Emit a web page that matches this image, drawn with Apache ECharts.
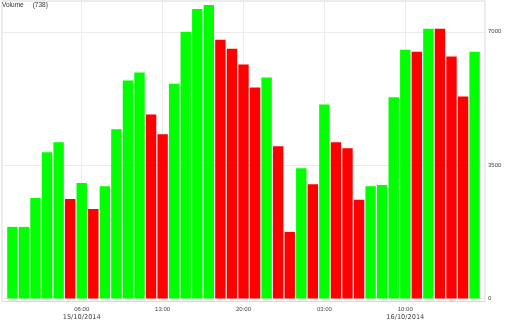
<!DOCTYPE html>
<html>
<head>
<meta charset="utf-8">
<script src="https://cdn.jsdelivr.net/npm/echarts@6/dist/echarts.min.js"></script>
<style>
html,body{margin:0;padding:0;background:#fff;}
#chart{width:512px;height:321px;}
</style>
</head>
<body>
<div id="chart"></div>
<script>
// Hourly categories: 15/10/2014 00:00 .. 16/10/2014 16:00
const times = [
  "00:00","01:00","02:00","03:00","04:00","05:00","06:00","07:00","08:00","09:00",
  "10:00","11:00","12:00","13:00","14:00","15:00","16:00","17:00","18:00","19:00",
  "20:00","21:00","22:00","23:00","00:00","01:00","02:00","03:00","04:00","05:00",
  "06:00","07:00","08:00","09:00","10:00","11:00","12:00","13:00","14:00","15:00","16:00"
];
const volumes = [
  1880, 1880, 2640, 3840, 4100, 2610, 3030, 2350, 2950, 4440,
  5720, 5930, 4830, 4310, 5640, 7000, 7600, 7705, 6790, 6555,
  6140, 5540, 5800, 4000, 1750, 3420, 3000, 5090, 4100, 3945,
  2590, 2950, 2980, 5280, 6530, 6480, 7080, 7080, 6350, 5300, 6480
];
// 1 = up (green), -1 = down (red)
const direction = [
  1, 1, 1, 1, 1,-1, 1,-1, 1, 1,
  1, 1,-1,-1, 1, 1, 1, 1,-1,-1,
 -1,-1, 1,-1,-1, 1,-1, 1,-1,-1,
 -1, 1, 1, 1, 1,-1, 1,-1,-1,-1, 1
];
const tickIndex = [6, 13, 20, 27, 34];
const tickDates = {6: "15/10/2014", 34: "16/10/2014"};
const yTicks = [0, 3500, 7000];
const volumeLabel = "Volume";
const volumeCount = "(738)";

const UP = "#00ff00", DOWN = "#ff0000";
const data = volumes.map((v, i) => ({
  value: [i, v],
  itemStyle: { color: direction[i] > 0 ? UP : DOWN }
}));

const chart = echarts.init(document.getElementById('chart'));
chart.setOption({
  animation: false,
  backgroundColor: '#fff',
  textStyle: { fontFamily: 'Liberation Sans' },
  title: {
    text: volumeLabel + '     ' + volumeCount,
    left: 2, top: 2, padding: 0,
    textStyle: { fontSize: 6.5, fontWeight: 'normal', color: '#333', fontFamily: 'Liberation Sans' }
  },
  grid: {
    left: 2, top: 1, right: 27, bottom: 18,
    show: true, borderColor: '#d9d9d9', borderWidth: 1, backgroundColor: 'transparent'
  },
  xAxis: {
    type: 'value', min: -0.9, max: 40.9,
    axisLine: { show: false },
    axisTick: { show: false, customValues: tickIndex },
    splitLine: { show: true, lineStyle: { color: '#ebebeb', width: 1 } },
    axisLabel: {
      customValues: tickIndex,
      margin: 4,
      formatter: function (v) {
        const i = Math.round(v);
        let s = '{t|' + times[i] + '}';
        if (tickDates[i]) s += '\n{d|' + tickDates[i] + '}';
        return s;
      },
      rich: {
        t: { fontSize: 6, color: '#444', fontFamily: 'Liberation Sans', lineHeight: 8 },
        d: { fontSize: 6.6, color: '#444', fontFamily: 'DejaVu Sans', lineHeight: 8 }
      }
    }
  },
  yAxis: {
    type: 'value', position: 'right', min: -78, max: 7809,
    axisLine: { show: false },
    axisTick: { show: false, customValues: yTicks },
    splitLine: { show: true, lineStyle: { color: '#ebebeb', width: 1 } },
    axisLabel: {
      customValues: yTicks, margin: 3, fontSize: 6, color: '#444', fontFamily: 'Liberation Sans',
      formatter: function (v) { return String(Math.round(v)); }
    }
  },
  series: [{
    type: 'bar',
    data: data,
    barWidth: 10.4,
    markPoint: {
      silent: true,
      symbol: 'triangle', symbolSize: [6, 3], symbolOffset: [0, 2],
      itemStyle: { color: '#d0d0d0' },
      label: { show: false },
      data: [{ coord: [38, 0] }]
    }
  }]
});
</script>
</body>
</html>
